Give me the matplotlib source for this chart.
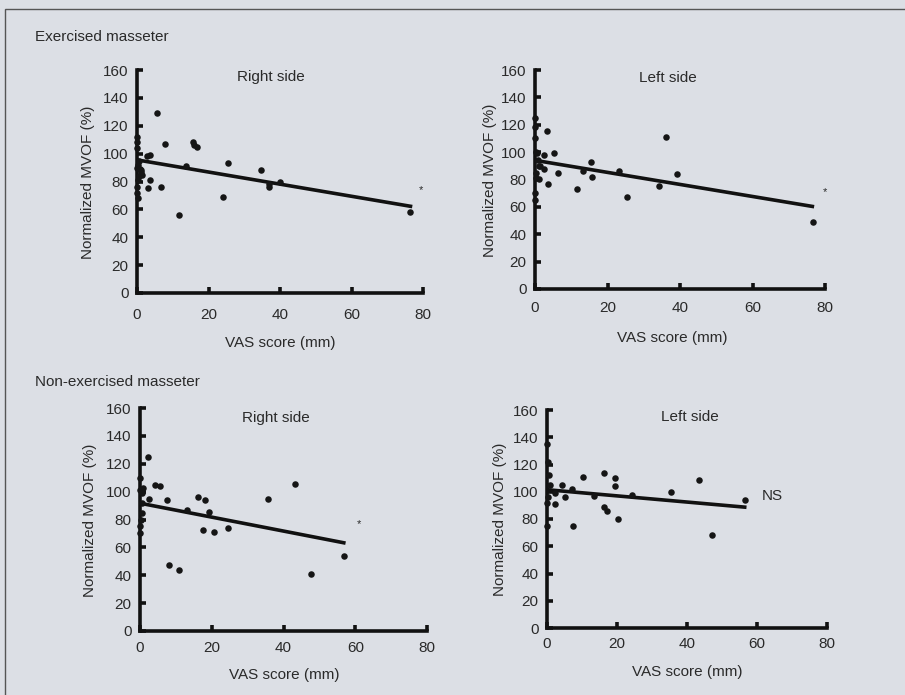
import matplotlib
matplotlib.use("Agg")
import matplotlib.pyplot as plt
import numpy as np
from matplotlib.patches import Rectangle

plt.rcParams['font.family'] = ['Liberation Sans', 'DejaVu Sans']

# ---- data ----
ex_right_x = [0, 0, 0, 0.5, 0.3, 0, 0.8, 1.0, 1.5, 0.5, 0.2, 1.2, 0, 0, 0.4,
              2.8, 3.5, 3.0, 3.7, 5.6, 6.8, 7.7, 11.7, 13.7, 15.7, 16.0, 16.8,
              24.0, 25.5, 34.7, 36.8, 37.0, 40.1, 76.5]
ex_right_y = [112, 108, 104, 95, 92, 90, 89, 87, 85, 84, 81, 88, 76, 72, 68,
              98, 99, 75, 81, 129, 76, 107, 56, 91, 108, 106, 105,
              69, 93, 88, 76, 78, 80, 58]
ex_right_fit = [95.5, -0.435, 77]   # intercept, slope, x max

ex_left_x = [0, 0, 0, 0, 0, 0.2, 0.5, 0.8, 1.5, 2.5, 0.3, 1.0, 0.4, 1.2,
             2.4, 3.4, 3.6, 5.2, 6.4, 11.5, 13.3, 15.4, 15.6, 23.2, 25.4,
             34.3, 36.0, 39.3, 76.7]
ex_left_y = [125, 118, 110, 70, 65, 100, 99, 94, 89.5, 88, 85, 90, 81, 80.5,
             98, 115.6, 77, 99, 85, 73, 86, 93, 82, 86, 67,
             75, 111, 84, 49]
ex_left_fit = [94, -0.44, 77]

nonex_right_x = [0.5, 0.1, 0.8, 0.5, 0.5, 0.3, 0, 0, 0, 2.2, 2.6, 4.3, 5.5,
                 7.5, 8.0, 10.9, 13.0, 16.3, 17.5, 18.1, 19.3, 20.5, 24.4,
                 35.6, 43.1, 47.6, 56.8]
nonex_right_y = [99, 101, 102.5, 92, 84.5, 80, 110, 75, 70, 124.5, 95, 105, 104,
                 93.7, 47, 43.8, 87, 96.5, 72.6, 93.7, 85.7, 70.7, 73.8,
                 95, 105.6, 40.7, 53.9]
nonex_right_fit = [91.7, -0.50, 57.3]

nonex_left_x = [0, 0.3, 0.5, 0.8, 0.2, 0, 0, 2.2, 2.2, 4.2, 5.2, 7.1, 7.3,
                10.2, 13.3, 16.2, 16.4, 17.1, 19.3, 19.3, 20.2, 24.3, 35.4,
                43.3, 47.1, 56.5]
nonex_left_y = [135, 122, 112.5, 105, 96.5, 91.7, 74.5, 99, 91, 105, 96, 102, 75,
                110.7, 96.6, 114, 89, 85.6, 110, 104, 80, 97.3, 99.8,
                108.8, 68.5, 94]
nonex_left_fit = [101.5, -0.2265, 57]

x_ticks = [0, 20, 40, 60, 80]
y_ticks = [0, 20, 40, 60, 80, 100, 120, 140, 160]
section_titles = ["Exercised masseter", "Non-exercised masseter"]
panel_titles = ["Right side", "Left side", "Right side", "Left side"]
annotations = ["*", "*", "*", "NS"]
annot_pos = [(79.3, 74), (79.9, 71), (61, 77), (61.4, 97)]

BG = '#dcdfe5'
TXT = '#2a2a2a'
W, H = 905, 695

fig = plt.figure(figsize=(9.05, 6.95), dpi=100, facecolor=BG)

def fx(px):
    return px / W

def fy(py):
    return 1 - py / H

# frame
fig.add_artist(Rectangle((fx(5), -0.1), 1.2, fy(9) + 0.1,
                         transform=fig.transFigure, fill=False,
                         edgecolor='#555555', linewidth=1.0))

fig.text(fx(35), fy(37), section_titles[0], fontsize=11, color=TXT,
         va='center', ha='left')
fig.text(fx(35), fy(382), section_titles[1], fontsize=11, color=TXT,
         va='center', ha='left')

# layout in pixels: left, right(80), top(160), bottom(0)
boxes = [(137, 423, 70, 293), (535, 825, 70, 289),
         (140, 427, 408, 631), (547, 827, 410, 628)]
title_px = [(271, 77), (668, 78), (276, 418), (690, 417)]
xlabel_px = [(280, 343), (672, 338), (284, 675), (687, 672)]
ylabel_px = [(88, 182), (490, 180), (90, 520), (500, 519)]
xpads = [10.5, 8.3, 7, 6.2]

datasets = [
    (ex_right_x, ex_right_y, ex_right_fit),
    (ex_left_x, ex_left_y, ex_left_fit),
    (nonex_right_x, nonex_right_y, nonex_right_fit),
    (nonex_left_x, nonex_left_y, nonex_left_fit),
]

for i, ((l, r, t, b), (xs, ys, fit)) in enumerate(zip(boxes, datasets)):
    ax = fig.add_axes([fx(l), fy(b), (r - l) / W, (b - t) / H])
    ax.set_facecolor('none')
    ax.set_xlim(0, 80)
    ax.set_ylim(0, 160)
    for s in ['top', 'right']:
        ax.spines[s].set_visible(False)
    for s in ['left', 'bottom']:
        ax.spines[s].set_linewidth(2.6)
        ax.spines[s].set_color('#111111')
        ax.spines[s].set_capstyle('projecting')
    ax.set_xticks(x_ticks)
    ax.set_yticks(y_ticks)
    ax.tick_params(direction='in', length=4, width=2.6, color='#111111',
                   labelsize=11, labelcolor=TXT)
    ax.tick_params(axis='x', pad=xpads[i])
    ax.tick_params(axis='y', pad=6)
    ax.scatter(xs, ys, s=22, color='#151515', zorder=3, clip_on=False,
               linewidths=0)
    b0, m, xmax = fit
    lx = np.array([0, xmax])
    ax.plot(lx, b0 + m * lx, color='#111111', linewidth=2.6, zorder=2,
            solid_capstyle='butt', clip_on=False)
    ax_, ay_ = annot_pos[i]
    if annotations[i] == 'NS':
        ax.text(ax_, ay_, annotations[i], fontsize=11, color=TXT, ha='left',
                va='center')
    else:
        ax.text(ax_, ay_, annotations[i], fontsize=8, color=TXT, ha='center',
                va='center')
    fig.text(fx(title_px[i][0]), fy(title_px[i][1]), panel_titles[i],
             fontsize=11, color=TXT, ha='center', va='center')
    fig.text(fx(xlabel_px[i][0]), fy(xlabel_px[i][1]), "VAS score (mm)",
             fontsize=11, color=TXT, ha='center', va='center')
    fig.text(fx(ylabel_px[i][0]), fy(ylabel_px[i][1]), "Normalized MVOF (%)",
             fontsize=11, color=TXT, ha='center', va='center', rotation=90)

fig.savefig('out.png', dpi=100, facecolor=BG)
